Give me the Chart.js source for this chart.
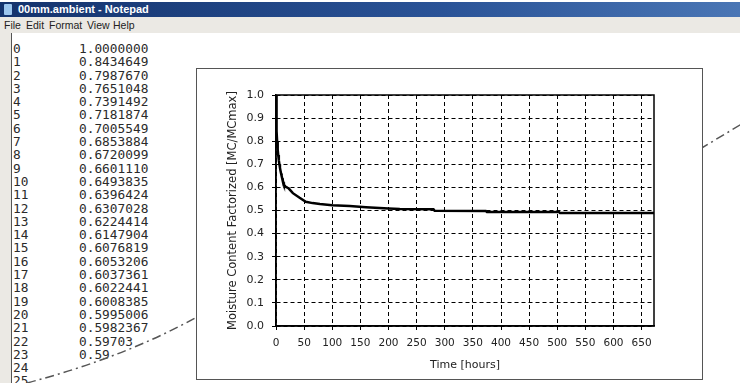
<!DOCTYPE html>
<html>
<head>
<meta charset="utf-8">
<script src="https://cdn.jsdelivr.net/npm/chart.js@4/dist/chart.umd.min.js"></script>
<style>
    body { margin: 0; width: 740px; height: 383px; overflow: hidden; background: #fff; position: relative; font-family: "DejaVu Sans", sans-serif; }
    #titulo { position: absolute; left: 0; top: 2px; width: 740px; height: 15px; background: linear-gradient(to right, #14336d, #2a5397 60%, #4a76b5); }
    #icono { position: absolute; left: 4px; top: 2px; width: 8px; height: 11px; background: #9cc6ee; border-radius: 1px; }
    #tituloTxt { position: absolute; left: 18px; top: 0px; color: #fff; font: bold 11px "Liberation Sans", sans-serif; line-height: 15px; }
    #menu { position: absolute; left: 0; top: 17px; width: 740px; height: 16px; background: #ebe9e4; font: 10.5px "Liberation Sans", sans-serif; color: #222; }
    #menu span { position: absolute; top: 2px; }
    #marco { position: absolute; left: 0; top: 33px; width: 11px; height: 350px; background: #ebe9e4; border-right: 1px solid #555; }
    .col { position: absolute; top: 42px; font: 12.8px "DejaVu Sans Mono", monospace; line-height: 13.3px; color: #2a2a2a; white-space: pre; }
    #trazo { position: absolute; left: 0; top: 0; }
    #panel { position: absolute; left: 196px; top: 68px; width: 505px; height: 310px; border: 1px solid #555; background: #fff; }
</style>
</head>
<body>
<div id="titulo"><div id="icono"></div><div id="tituloTxt">00mm.ambient - Notepad</div></div>
<div id="menu"><span style="left:4px">File</span><span style="left:26px">Edit</span><span style="left:49px">Format</span><span style="left:87px">View</span><span style="left:113px">Help</span></div>
<div id="marco"></div>
<div class="col" id="colIndice" style="left:13px"></div>
<div class="col" id="colValor" style="left:79px"></div>
<svg id="trazo" width="740" height="383">
    <path d="M -10 392 Q 110 365 197 317" fill="none" stroke="#555" stroke-width="1.5" stroke-dasharray="9 4 2 4"/>
    <path d="M 700 149 L 745 122" fill="none" stroke="#555" stroke-width="1.5" stroke-dasharray="9 4 2 4"/>
</svg>
<div id="panel"><canvas id="grafico" width="505" height="310"></canvas></div>

<script>
// Datos del archivo de texto (visibles en Notepad)
const filasIndice = ["0","1","2","3","4","5","6","7","8","9","10","11","12","13","14","15","16","17","18","19","20","21","22","23","24","25"];
const filasValor = ["1.0000000","0.8434649","0.7987670","0.7651048","0.7391492","0.7181874","0.7005549","0.6853884",
    "0.6720099","0.6601110","0.6493835","0.6396424","0.6307028","0.6224414","0.6147904","0.6076819","0.6053206",
    "0.6037361","0.6022441","0.6008385","0.5995006","0.5982367","0.59703","0.59","",""];

// Curva del grafico: horas y humedad relativa MC/MCmax
const horas = [0,1,2,3,4,5,6,7,8,9,10,11,12,13,14,15,16,17,18,19,20,21,22,
    30,42,53,65,78,100,131,160,200,220,280,282,373,375,503,505,672];
const humedad = [1.0,0.8434649,0.7987670,0.7651048,0.7391492,0.7181874,0.7005549,0.6853884,0.6720099,0.6601110,
    0.6493835,0.6396424,0.6307028,0.6224414,0.6147904,0.6076819,0.6053206,0.6037361,0.6022441,0.6008385,
    0.5995006,0.5982367,0.59703,
    0.575,0.555,0.538,0.532,0.528,0.523,0.519,0.514,0.509,0.506,0.505,0.499,0.498,0.494,0.494,0.489,0.489];

const ticksX = [0,50,100,150,200,250,300,350,400,450,500,550,600,650];

document.getElementById("colIndice").textContent = filasIndice.join("\n");
document.getElementById("colValor").textContent = filasValor.join("\n");

// Marco completo alrededor del area del grafico
const marcoArea = {
    id: "marcoArea",
    afterDraw(chart) {
        const { ctx, chartArea: a } = chart;
        ctx.save();
        ctx.strokeStyle = "#000";
        ctx.lineWidth = 1.5;
        ctx.strokeRect(a.left, a.top, a.right - a.left, a.bottom - a.top);
        ctx.restore();
    }
};

const fuente = { family: "DejaVu Sans", size: 11 };

new Chart(document.getElementById("grafico").getContext("2d"), {
    type: "line",
    data: {
        datasets: [{
            data: horas.map((h, i) => ({ x: h, y: humedad[i] })),
            borderColor: "#000",
            borderWidth: 2.5,
            pointRadius: 0,
            tension: 0,
            fill: false
        }]
    },
    options: {
        responsive: false,
        animation: false,
        layout: { padding: { left: 0, top: 26, right: 48, bottom: 0 } },
        plugins: { legend: { display: false }, tooltip: { enabled: false } },
        scales: {
            x: {
                type: "linear",
                min: 0,
                max: 672,
                afterBuildTicks: s => { s.ticks = ticksX.map(v => ({ value: v })); },
                afterFit: s => { s.height = 53; },
                ticks: { color: "#222", font: { family: "DejaVu Sans", size: 10.5 }, padding: 7, maxRotation: 0, autoSkip: false },
                grid: { color: "#000", lineWidth: 1, tickLength: 4, tickColor: "#000" },
                border: { display: true, color: "#000", width: 1.5, dash: [4, 3] },
                title: { display: true, text: "Time [hours]", color: "#222", font: fuente, padding: { top: 0, bottom: 7 } }
            },
            y: {
                min: 0,
                max: 1,
                afterFit: s => { s.width = 79; },
                ticks: { stepSize: 0.1, color: "#222", font: fuente, padding: 8, callback: v => v.toFixed(1) },
                grid: { color: "#000", lineWidth: 1, tickLength: 4, tickColor: "#000" },
                border: { display: true, color: "#000", width: 1.5, dash: [4, 3] },
                title: { display: true, text: "Moisture Content Factorized [MC/MCmax]", color: "#222", font: { family: "DejaVu Sans", size: 11.5 }, padding: { top: 29, bottom: 0 } }
            }
        }
    },
    plugins: [marcoArea]
});
</script>
</body>
</html>
